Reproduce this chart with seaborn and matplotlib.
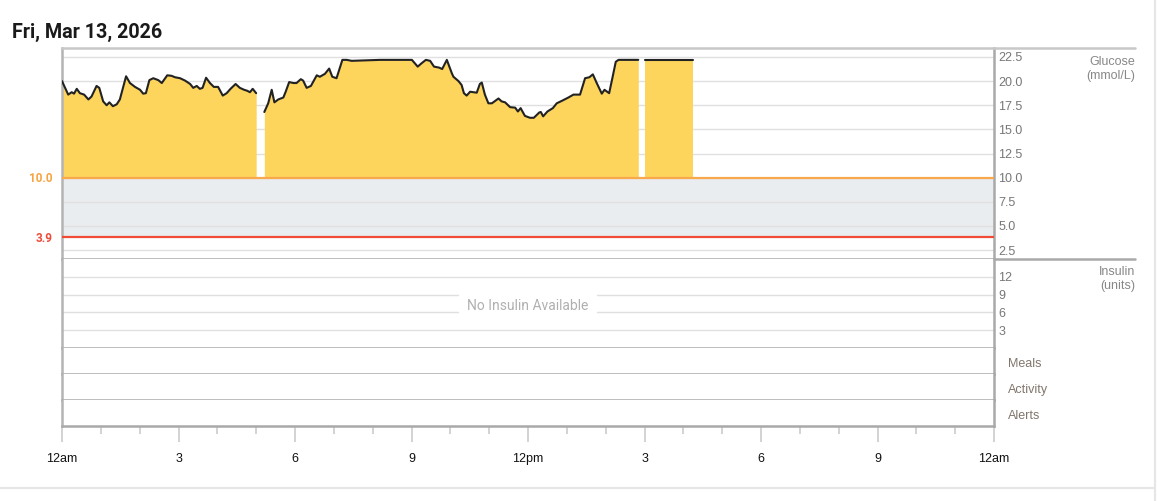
import numpy as np
import pandas as pd
import seaborn as sns
import matplotlib.pyplot as plt
from matplotlib.lines import Line2D
from matplotlib.ticker import MultipleLocator

# glucose readings (hours since midnight, mmol/L), three segments split by sensor gaps
seg1_hours = [0.0, 0.08, 0.16, 0.25, 0.31, 0.38, 0.46, 0.57, 0.68, 0.76, 0.89, 0.96, 1.06, 1.15,
              1.22, 1.31, 1.41, 1.49, 1.65, 1.75, 1.88, 2.01, 2.09, 2.16, 2.25, 2.35, 2.48, 2.57,
              2.71, 2.82, 2.91, 3.04, 3.17, 3.30, 3.38, 3.47, 3.55, 3.62, 3.71, 3.81, 3.91, 4.02,
              4.14, 4.24, 4.34, 4.47, 4.58, 4.69, 4.77, 4.84, 4.91, 5.00]
seg1_glucose = [20.0, 19.3, 18.6, 18.85, 18.7, 19.2, 18.75, 18.6, 18.1, 18.4, 19.5, 19.3, 17.9, 17.5,
                17.8, 17.4, 17.6, 18.1, 20.5, 19.8, 19.4, 19.1, 18.7, 18.75, 20.1, 20.3, 20.1, 19.8,
                20.6, 20.55, 20.4, 20.3, 20.05, 19.7, 19.3, 19.5, 19.2, 19.3, 20.35, 19.8, 19.4, 19.4,
                18.5, 18.75, 19.2, 19.7, 19.3, 19.1, 19.0, 18.85, 19.2, 18.75]

seg2_hours = [5.21, 5.31, 5.40, 5.47, 5.57, 5.70, 5.76, 5.85, 5.96, 6.04, 6.15, 6.21, 6.30, 6.41,
              6.56, 6.64, 6.77, 6.88, 6.96, 7.07, 7.22, 7.33, 7.46, 8.19, 9.01, 9.16, 9.26, 9.37,
              9.48, 9.58, 9.71, 9.79, 9.91, 10.04, 10.08, 10.21, 10.29, 10.35, 10.42, 10.51, 10.68,
              10.76, 10.81, 10.89, 10.98, 11.07, 11.24, 11.32, 11.41, 11.54, 11.67, 11.74, 11.81,
              11.92, 12.05, 12.15, 12.29, 12.33, 12.39, 12.50, 12.64, 12.74, 12.87, 13.04, 13.17,
              13.34, 13.47, 13.58, 13.67, 13.77, 13.90, 13.97, 14.09, 14.18, 14.26, 14.33, 14.84]
seg2_glucose = [16.8, 17.7, 19.1, 17.8, 18.1, 18.3, 18.9, 19.9, 19.8, 19.8, 20.2, 20.05, 19.3, 19.5,
                20.6, 20.45, 20.75, 21.3, 20.45, 20.3, 22.2, 22.2, 22.1, 22.2, 22.2, 21.5, 21.85, 22.2,
                22.1, 21.5, 21.4, 21.25, 22.2, 20.8, 20.45, 20.0, 19.6, 18.75, 18.5, 18.9, 18.8,
                19.7, 19.85, 18.6, 17.7, 17.7, 18.2, 17.9, 17.8, 17.3, 17.25, 16.85, 17.2,
                16.4, 16.2, 16.2, 16.75, 16.8, 16.35, 16.85, 17.2, 17.7, 17.95, 18.3, 18.6,
                18.6, 20.3, 20.4, 20.7, 19.8, 18.7, 19.1, 18.75, 20.45, 22.0, 22.2, 22.2]

seg3_hours = [15.0, 16.26]
seg3_glucose = [22.2, 22.2]

high_limit = 10.0
low_limit = 3.9
glucose_ticks = [2.5, 5.0, 7.5, 10.0, 12.5, 15.0, 17.5, 20.0, 22.5]
insulin_ticks = [3, 6, 9, 12]
hour_ticks = [0, 3, 6, 9, 12, 15, 18, 21, 24]
hour_labels = ['12am', '3', '6', '9', '12pm', '3', '6', '9', '12am']
event_rows = ['Meals', 'Activity', 'Alerts']

df = pd.concat([
    pd.DataFrame({'hour': seg1_hours, 'glucose': seg1_glucose, 'seg': 1}),
    pd.DataFrame({'hour': seg2_hours, 'glucose': seg2_glucose, 'seg': 2}),
    pd.DataFrame({'hour': seg3_hours, 'glucose': seg3_glucose, 'seg': 3}),
], ignore_index=True)

sns.set_style('white')
plt.rcParams['font.family'] = ['Liberation Sans', 'DejaVu Sans']

W, H = 1158, 501
fig = plt.figure(figsize=(W / 100, H / 100), dpi=100)


def box(top, bottom, left=62, right=994):
    return [left / W, 1 - bottom / H, (right - left) / W, (bottom - top) / H]


def fx(x):
    return x / W


def fy(y):
    return 1 - y / H


frame = '#a9a9a9'
tick_grey = '#777777'

ax_g = fig.add_axes(box(48, 259))
ax_i = fig.add_axes(box(259, 348), sharex=ax_g)
ax_rows = [fig.add_axes(box(348 + 26 * k, 374 + 26 * k), sharex=ax_g) for k in range(3)]
all_axes = [ax_g, ax_i] + ax_rows

for ax in all_axes:
    ax.set_xlim(0, 24)
    for side in ['left', 'right', 'bottom']:
        ax.spines[side].set_color(frame)
        ax.spines[side].set_linewidth(1.8)
    ax.spines['left'].set_color('#b4b4b4')
    ax.spines['top'].set_visible(False)
    ax.tick_params(axis='x', which='both', bottom=False, labelbottom=False)

# glucose panel
ax_g.set_ylim(1.57, 23.43)
ax_g.set_axisbelow(True)
ax_g.axhspan(low_limit, high_limit, color='#eaedf0', lw=0, zorder=0.1)
for s, part in df.groupby('seg'):
    ax_g.fill_between(part['hour'], high_limit, part['glucose'], color='#fdd55d', lw=0, zorder=2)
sns.lineplot(data=df, x='hour', y='glucose', units='seg', estimator=None, color='#222222',
             lw=1.5, ax=ax_g, zorder=3)
ax_g.axhline(high_limit, color='#f9a94b', lw=1.6, zorder=4)
ax_g.axhline(low_limit, color='#f04b37', lw=1.6, zorder=4)
ax_g.set_yticks(glucose_ticks)
ax_g.set_yticklabels([f'{t:.1f}' for t in glucose_ticks])
ax_g.yaxis.tick_right()
ax_g.tick_params(axis='y', length=0, pad=3, labelsize=9, labelcolor=tick_grey)
ax_g.tick_params(axis='x', which='both', bottom=False, labelbottom=False)
ax_g.grid(axis='y', color='#e0e0e0', lw=1)
ax_g.grid(axis='x', visible=False)
ax_g.set_xlabel('')
ax_g.set_ylabel('')

# insulin panel
ax_i.set_ylim(0, 15)
ax_i.set_yticks(insulin_ticks)
ax_i.yaxis.tick_right()
ax_i.tick_params(axis='y', length=0, pad=3, labelsize=9, labelcolor=tick_grey)
ax_i.grid(axis='y', color='#e0e0e0', lw=1)
ax_i.set_axisbelow(True)
ax_i.text(12.0, 7.0, 'No Insulin Available', ha='center', va='center', fontsize=10,
          color='#b0b0b0', family='Roboto',
          bbox=dict(facecolor='white', edgecolor='none', pad=6), zorder=5)

# event rows
for ax, name in zip(ax_rows, event_rows):
    ax.set_yticks([])
    mid = (ax.get_position().y0 + ax.get_position().y1) / 2
    fig.text(fx(1008), mid - 3 / H, name, ha='left', va='center', fontsize=9, color='#80766c')

# time axis
ax_b = ax_rows[-1]
ax_b.set_xticks(hour_ticks)
ax_b.set_xticklabels(hour_labels)
ax_b.xaxis.set_minor_locator(MultipleLocator(1))
ax_b.tick_params(axis='x', which='major', bottom=True, labelbottom=True, direction='out',
                 length=11.5, width=1.2, color='#cccccc', pad=8, labelsize=9, labelcolor='#111111')
ax_b.tick_params(axis='x', which='minor', bottom=True, direction='out', length=5.5,
                 width=1.2, color='#cccccc')

# frame lines reaching into the label column
fig.add_artist(Line2D([fx(62), fx(1135)], [fy(48), fy(48)], color='#c8c8c8', lw=1.8))
fig.add_artist(Line2D([fx(994), fx(1135)], [fy(259), fy(259)], color=frame, lw=1.8))
# card border
fig.add_artist(Line2D([fx(1155), fx(1155)], [0, 1], color='#e6e6e6', lw=1.5))
fig.add_artist(Line2D([0, fx(1155)], [fy(488), fy(488)], color='#e6e6e6', lw=1.5))

# axis titles on the right
fig.text(fx(1135), fy(62), 'Glucose', ha='right', va='center', fontsize=9, color='#888888')
fig.text(fx(1135), fy(76), '(mmol/L)', ha='right', va='center', fontsize=9, color='#888888')
fig.text(fx(1135), fy(272), 'Insulin', ha='right', va='center', fontsize=9, color='#888888')
fig.text(fx(1135), fy(286), '(units)', ha='right', va='center', fontsize=9, color='#888888')

# target labels on the left
fig.text(fx(53), fy(178), f'{high_limit:.1f}', ha='right', va='center', fontsize=8.5,
         fontweight='bold', color='#f7a440', family='Roboto')
fig.text(fx(53), fy(238), f'{low_limit}', ha='right', va='center', fontsize=8.5,
         fontweight='bold', color='#ef4b3a', family='Roboto')

fig.text(fx(12), fy(32), 'Fri, Mar 13, 2026', ha='left', va='center', fontsize=14.2,
         fontweight='bold', color='#1a1a1a', family='Roboto')

fig.savefig('out.png', dpi=100)
